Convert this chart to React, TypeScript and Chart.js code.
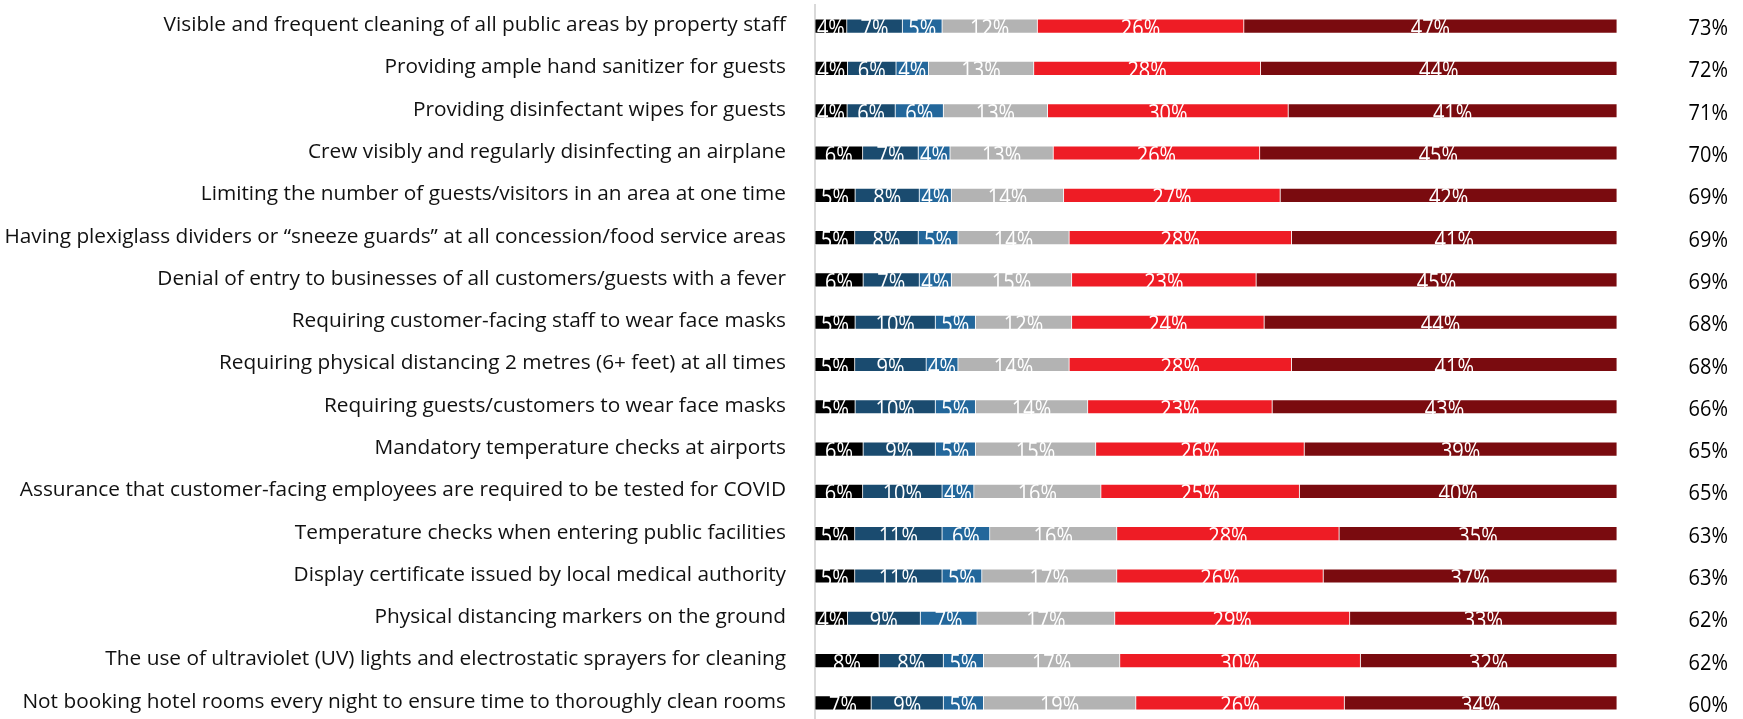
import React, { useEffect, useRef } from "react";
import { Chart, registerables } from "chart.js";

Chart.register(...registerables);

const categories: string[] = [
  "Visible and frequent cleaning of all public areas by property staff",
  "Providing ample hand sanitizer for guests",
  "Providing disinfectant wipes for guests",
  "Crew visibly and regularly disinfecting an airplane",
  "Limiting the number of guests/visitors in an area at one time",
  "Having plexiglass dividers or \u201csneeze guards\u201d at all concession/food service areas",
  "Denial of entry to businesses of all customers/guests with a fever",
  "Requiring customer-facing staff to wear face masks",
  "Requiring physical distancing 2 metres (6+ feet) at all times",
  "Requiring guests/customers to wear face masks",
  "Mandatory temperature checks at airports",
  "Assurance that customer-facing employees are required to be tested for COVID",
  "Temperature checks when entering public facilities",
  "Display certificate issued by local medical authority",
  "Physical distancing markers on the ground",
  "The use of ultraviolet (UV) lights and electrostatic sprayers for cleaning",
  "Not booking hotel rooms every night to ensure time to thoroughly clean rooms",
];

const seriesNames: string[] = ["1", "2", "3", "4", "5", "6"];

const s1: number[] = [4, 4, 4, 6, 5, 5, 6, 5, 5, 5, 6, 6, 5, 5, 4, 8, 7];
const s2: number[] = [7, 6, 6, 7, 8, 8, 7, 10, 9, 10, 9, 10, 11, 11, 9, 8, 9];
const s3: number[] = [5, 4, 6, 4, 4, 5, 4, 5, 4, 5, 5, 4, 6, 5, 7, 5, 5];
const s4: number[] = [12, 13, 13, 13, 14, 14, 15, 12, 14, 14, 15, 16, 16, 17, 17, 17, 19];
const s5: number[] = [26, 28, 30, 26, 27, 28, 23, 24, 28, 23, 26, 25, 28, 26, 29, 30, 26];
const s6: number[] = [47, 44, 41, 45, 42, 41, 45, 44, 41, 43, 39, 40, 35, 37, 33, 32, 34];

const totals: number[] = [73, 72, 71, 70, 69, 69, 69, 68, 68, 66, 65, 65, 63, 63, 62, 62, 60];

const colors: string[] = ["#000000", "#1a4b6f", "#23679b", "#b3b3b3", "#ee1c25", "#7a0b0f"];

const FONT = "'Open Sans', 'Noto Sans', sans-serif";

export default function App() {
  const ref = useRef<HTMLCanvasElement | null>(null);

  useEffect(() => {
    const canvas = ref.current;
    if (!canvas) return;
    const series = [s1, s2, s3, s4, s5, s6];
    const rowSums = categories.map((_, j) => series.reduce((a, s) => a + s[j], 0));

    const labelPlugin = {
      id: "segLabels",
      afterDatasetsDraw(chart: any) {
        const ctx = chart.ctx;
        ctx.save();
        ctx.font = `20px ${FONT}`;
        ctx.fillStyle = "#ffffff";
        ctx.textAlign = "center";
        ctx.textBaseline = "alphabetic";
        series.forEach((s, i) => {
          const meta = chart.getDatasetMeta(i);
          meta.data.forEach((bar: any, j: number) => {
            const p = bar.getProps(["x", "y", "base", "height"], true);
            const cx = (p.x + p.base) / 2;
            const bottom = p.y + p.height / 2;
            ctx.save();
            ctx.translate(cx, bottom + 3);
            ctx.scale(1, 1.2);
            ctx.fillText(`${s[j]}%`, 0, 0);
            ctx.restore();
          });
        });
        ctx.fillStyle = "#000000";
        ctx.textAlign = "right";
        const yScale = chart.scales.y;
        totals.forEach((t, j) => {
          const y = yScale.getPixelForValue(j);
          ctx.save();
          ctx.translate(chart.chartArea.right + 111, y + 9);
          ctx.scale(1, 1.08);
          ctx.fillText(`${t}%`, 0, 0);
          ctx.restore();
        });
        ctx.restore();
      },
    };

    const chart = new Chart(canvas, {
      type: "bar",
      data: {
        labels: categories,
        datasets: series.map((s, i) => ({
          label: seriesNames[i],
          data: s.map((v, j) => (v / rowSums[j]) * 100),
          backgroundColor: colors[i],
          borderColor: "rgba(255,255,255,0.55)",
          borderWidth: 0.75,
          borderSkipped: false,
          barThickness: 14,
        })),
      },
      options: {
        indexAxis: "y",
        responsive: false,
        animation: false,
        devicePixelRatio: 1,
        layout: { padding: { left: 0, right: 126, top: 5, bottom: 1 } },
        plugins: {
          legend: { display: false },
          tooltip: { enabled: false },
        },
        scales: {
          x: {
            display: false,
            stacked: true,
            min: 0,
            max: 100,
          },
          y: {
            stacked: true,
            grid: { display: false, drawTicks: false },
            border: { display: true, color: "#d9d9d9", width: 2 },
            ticks: {
              color: "#111111",
              font: { family: FONT, size: 20.8 },
              padding: 29,
              labelOffset: -1,
              autoSkip: false,
            },
            afterFit(scale: any) {
              scale.width = 815;
              scale.paddingTop = 0;
              scale.paddingBottom = 0;
            },
          },
        },
      },
      plugins: [labelPlugin],
    } as any);

    return () => chart.destroy();
  }, []);

  return (
    <div
      style={{
        position: "fixed",
        left: 0,
        top: 0,
        width: 1743,
        height: 719,
        overflow: "hidden",
        background: "#ffffff",
      }}
    >
      <canvas ref={ref} width={1743} height={725} style={{ width: 1743, height: 725, display: "block" }} />
    </div>
  );
}
